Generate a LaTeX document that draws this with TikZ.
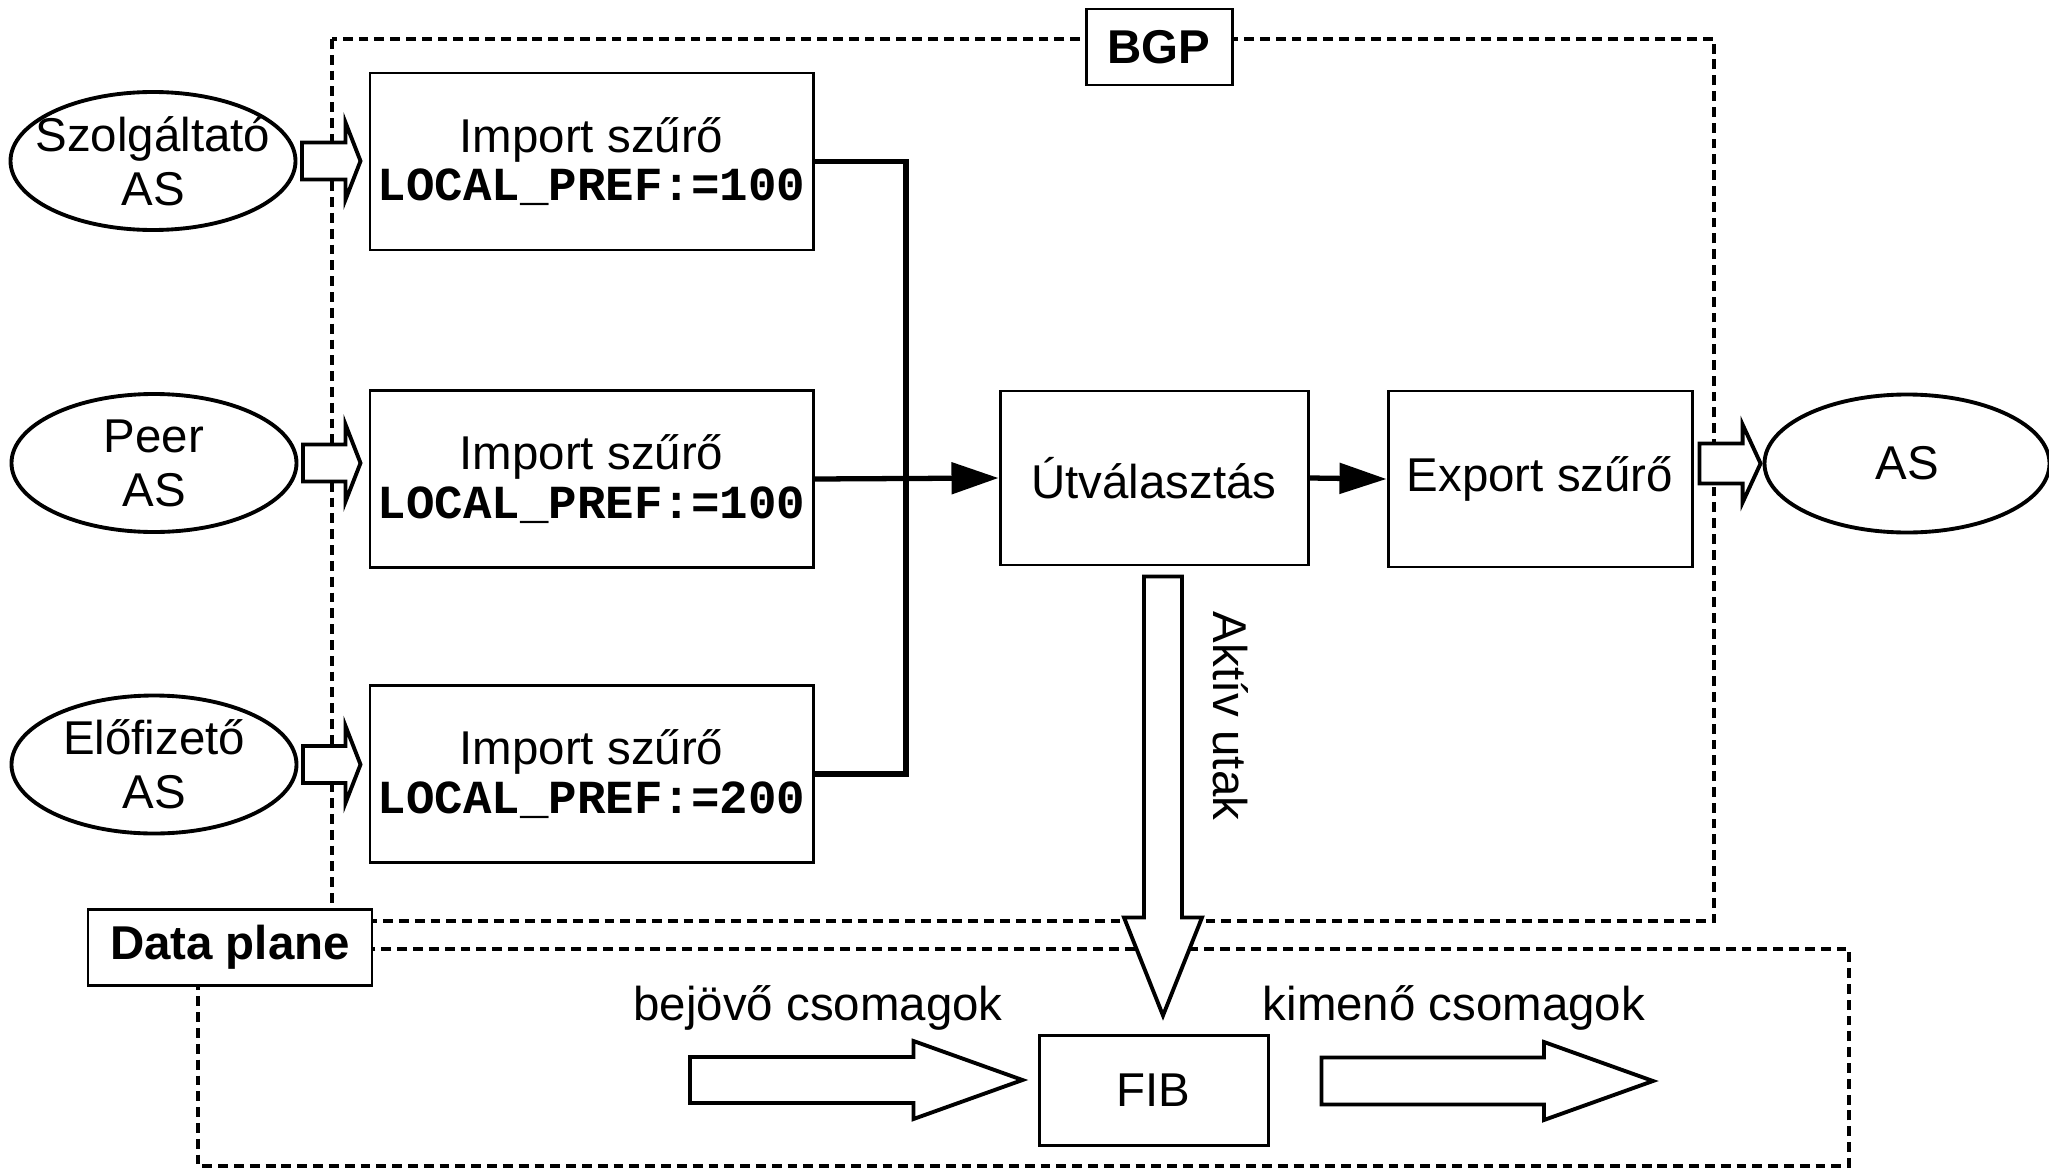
\documentclass[tikz,border=0pt]{standalone}
\usepackage{fontspec}
\setmainfont{Liberation Sans}
\setmonofont{Liberation Mono}
\usetikzlibrary{arrows.meta}
\usetikzlibrary{shapes.geometric}
\usetikzlibrary{calc}

% hollow block arrow: start, tip, half shaft, half head, head length
\newcommand{\fatarrow}[5]{%
  \draw[fat] let \p1=#1, \p2=#2 in
    (\x1,\y1+#3) -- (\x2-#5,\y1+#3) -- (\x2-#5,\y1+#4) -- (\x2,\y1)
    -- (\x2-#5,\y1-#4) -- (\x2-#5,\y1-#3) -- (\x1,\y1-#3) -- cycle;
}

\begin{document}
\begin{tikzpicture}[
    every node/.style={black,font=\fontsize{13.5}{13.7}\selectfont},
    box/.style={draw,line width=0.85pt,align=center,inner sep=0pt},
    impbox/.style={box,minimum width=4.43cm,minimum height=1.77cm},
    asnode/.style={ellipse,draw,line width=1.1pt,minimum width=2.85cm,minimum height=1.38cm,inner sep=0pt,
        label={[align=center,font=\fontsize{13.5}{15.4}\selectfont]center:#1}},
    tag/.style={draw,fill=white,line width=0.85pt,minimum height=0.76cm,inner sep=0pt,
        font=\fontsize{13.5}{13.7}\selectfont\bfseries},
    frame/.style={line width=1.1pt,dash pattern=on 2.8pt off 1.7pt},
    conn/.style={line width=1.5pt},
    fat/.style={draw,fill=white,line width=1.1pt,line join=miter},
]
    \useasboundingbox (0,0) rectangle (20.49,-11.69);

    % frames
    \draw[frame] (3.32,-0.39) rectangle (17.14,-9.21);
    \draw[frame] (1.98,-9.49) rectangle (18.49,-11.66);
    \node[tag,minimum width=1.46cm] (bgp) at (11.59,-0.47) {BGP};
    \node[tag,minimum width=2.84cm] (dplane) at (2.30,-9.47) {Data plane};

    % neighbours
    \node[asnode={Szolgáltató\\AS}] (szolg) at (1.53,-1.61) {};
    \node[asnode={Peer\\AS}] (peer) at (1.54,-4.63) {};
    \node[asnode={Előfizető\\AS}] (elofiz) at (1.54,-7.645) {};
    \node[asnode={AS}] (asout) at (19.07,-4.635) {};

    % filters
    \node[impbox] (imp1) at (5.915,-1.615) {Import szűrő\\\texttt{\bfseries LOCAL\_PREF:=100}};
    \node[impbox] (imp2) at (5.915,-4.79) {Import szűrő\\\texttt{\bfseries LOCAL\_PREF:=100}};
    \node[impbox] (imp3) at (5.915,-7.74) {Import szűrő\\\texttt{\bfseries LOCAL\_PREF:=200}};
    \node[box,minimum width=3.08cm,minimum height=1.74cm] (ut) at (11.54,-4.78) {Útválasztás};
    \node[box,minimum width=3.04cm,minimum height=1.76cm] (exp) at (15.40,-4.79) {Export szűrő};
    \node[box,minimum width=2.29cm,minimum height=1.10cm] (fib) at (11.535,-10.90) {FIB};

    % decision process
    \coordinate (jn) at (9.06,-4.79);
    \draw[conn] (imp1.east) -| (jn) |- (imp3.east);
    \draw[conn,-{Triangle[length=4.7mm,width=3.1mm]}] (imp2.east) -- (ut.west);
    \draw[conn,-{Triangle[length=4.7mm,width=3.0mm]}] (ut.east) -- (exp.west);

    \fatarrow{($(szolg.east)+(0.045,0)$)}{($(imp1.west)+(-0.08,0)$)}{0.185cm}{0.385cm}{0.15cm}
    \fatarrow{($(peer.east)+(0.045,0)$)}{($(imp2.west)+(-0.08,0)$)}{0.185cm}{0.385cm}{0.15cm}
    \fatarrow{($(elofiz.east)+(0.045,0)$)}{($(imp3.west)+(-0.08,0)$)}{0.185cm}{0.385cm}{0.15cm}
    \fatarrow{($(exp.east |- asout.west)+(0.06,0)$)}{($(asout.west)+(-0.02,0)$)}{0.20cm}{0.39cm}{0.18cm}

    % routes down to the FIB
    \draw[fat] let \p1=($(ut.south)+(0.09,-0.10)$), \p2=($(fib.north)+(0.12,0.18)$) in
        (\x1-0.19cm,\y1) -- (\x1+0.19cm,\y1) -- (\x1+0.19cm,\y2+0.98cm) -- (\x1+0.39cm,\y2+0.98cm)
        -- (\x1,\y2) -- (\x1-0.39cm,\y2+0.98cm) -- (\x1-0.19cm,\y2+0.98cm) -- cycle;
    \node[rotate=-90] (aktiv) at (12.31,-7.16) {Aktív utak};

    % packets
    \coordinate (pktin) at (6.90,-10.80);
    \coordinate (pktout) at (16.53,-10.81);
    \fatarrow{(pktin)}{($(fib.west)+(-0.15,0)$)}{0.23cm}{0.39cm}{1.09cm}
    \fatarrow{($(fib.east |- pktout)+(0.52,0)$)}{(pktout)}{0.235cm}{0.39cm}{1.09cm}
    \node (inlbl) at (8.18,-10.08) {bejövő csomagok};
    \node (outlbl) at (14.54,-10.08) {kimenő csomagok};
\end{tikzpicture}
\end{document}
